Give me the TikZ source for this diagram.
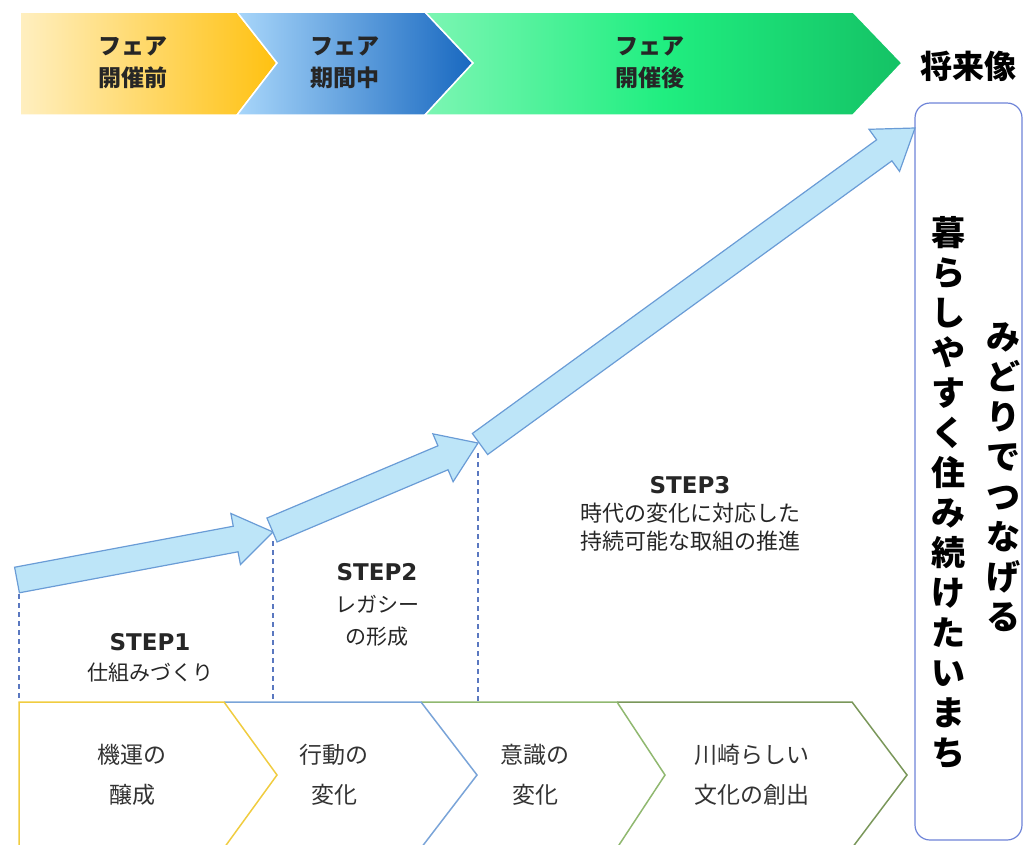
\documentclass[tikz,border=0pt]{standalone}
\usepackage{fontspec}
\setmainfont{Noto Sans CJK JP}
\newfontfamily\stepfont{DejaVu Sans}
\usepackage{tikz}
\usetikzlibrary{calc}

\definecolor{arrowfill}{HTML}{BDE5F8}
\definecolor{arrowline}{HTML}{6A9CD6}
\definecolor{guideline}{HTML}{5A78C0}
\definecolor{visionline}{HTML}{6E84D8}
\definecolor{chevyellow}{HTML}{F0CC40}
\definecolor{chevblue}{HTML}{7AA4D8}
\definecolor{chevgreen}{HTML}{90B870}
\definecolor{chevolive}{HTML}{7A975A}
\definecolor{yellowA}{HTML}{FFEFC0}
\definecolor{yellowB}{HTML}{FFC110}
\definecolor{blueA}{HTML}{A8D6FA}
\definecolor{blueB}{HTML}{1868C0}
\definecolor{greenA}{HTML}{D8FDE6}
\definecolor{greenB}{HTML}{20EE80}
\definecolor{greenC}{HTML}{08964A}

\pgfdeclarehorizontalshading{fairafter}{100bp}{color(0bp)=(greenA); color(50bp)=(greenB); color(100bp)=(greenC)}

% step title in bold latin
\newcommand{\stepName}[1]{{\stepfont\fontsize{23}{28}\selectfont\bfseries #1}}

% block arrow from tail (#1) to tip (#2)
\newcommand{\stepArrow}[2]{%
	\coordinate (#2-neck) at ($(#2)!38pt!(#1)$);
	\draw[bluearrow] ($(#1)!13pt!90:(#2)$) -- ($(#2-neck)!13pt!90:(#2)$)
		-- ($(#2-neck)!26pt!90:(#2)$) -- (#2)
		-- ($(#2-neck)!26pt!-90:(#2)$) -- ($(#2-neck)!13pt!-90:(#2)$)
		-- ($(#1)!13pt!-90:(#2)$) -- cycle;
}

\begin{document}
\begin{tikzpicture}[x=1pt,y=-1pt, % one unit = one pixel, y downwards
	bluearrow/.style={fill=arrowfill,draw=arrowline,line width=1.2pt,line join=miter},
	guide/.style={draw=guideline,dash pattern=on 5pt off 4pt,line width=1.1pt},
	phase/.style={draw=white,line width=1.5pt},
	phasetext/.style={align=center,font=\fontsize{23}{32}\selectfont\bfseries,text=black!85},
	stage/.style={line width=1.5pt},
	stagetext/.style={align=center,font=\fontsize{23}{40}\selectfont,text=black!80},
	steptext/.style={align=center,text=black!85},
	vertical/.style={align=center,font=\fontsize{34}{40}\selectfont\bfseries,text=black}]
	\useasboundingbox (0,0) rectangle (1027,844);

	% top banner
	\shade[phase,left color=yellowA,right color=yellowB]
		(20,12) -- (237,12) -- (277,63) -- (237,115) -- (20,115) -- cycle;
	\shade[phase,left color=blueA,right color=blueB]
		(237,12) -- (425,12) -- (473,63) -- (425,115) -- (237,115) -- (277,63) -- cycle;
	\shade[phase,shading=fairafter]
		(425,12) -- (853,12) -- (902,63) -- (853,115) -- (425,115) -- (473,63) -- cycle;
	\node[phasetext] (before) at (133,63) {フェア\\開催前};
	\node[phasetext] (during) at (345,63) {フェア\\期間中};
	\node[phasetext] (after) at (650,63) {フェア\\開催後};
	\node[font=\fontsize{32}{36}\selectfont\bfseries] (future) at (968,66) {将来像};

	% vision box
	\node[draw=visionline,line width=1.2pt,rounded corners=15pt,fill=white,
		minimum width=107pt,minimum height=737pt] (vision) at (968.5,471.5) {};
	\node[vertical] (live) at (948,493)
		{暮\\ら\\し\\や\\す\\く\\住\\み\\続\\け\\た\\い\\ま\\ち};
	\node[vertical] (green) at (1003,477) {み\\ど\\り\\で\\つ\\な\\げ\\る};

	% rising arrows
	\coordinate (t1) at (17,580);  \coordinate (h1) at (273,532);
	\coordinate (t2) at (272,530); \coordinate (h2) at (478,443);
	\coordinate (t3) at (480,444); \coordinate (h3) at (915,128);
	\stepArrow{t1}{h1}
	\stepArrow{t2}{h2}
	\stepArrow{t3}{h3}

	% dashed step borders
	\coordinate (base) at (0,702);
	\coordinate (d1) at (19,594);
	\coordinate (d2) at (273,541);
	\coordinate (d3) at (478,453);
	\foreach \d in {d1,d2,d3}
		\draw[guide] (\d) -- (\d |- base);

	% step labels
	\node[steptext,font=\fontsize{21}{30}\selectfont] (step1) at (150,658)
		{\stepName{STEP1}\\仕組みづくり};
	\node[steptext,font=\fontsize{21}{32}\selectfont] (step2) at (377,605)
		{\stepName{STEP2}\\レガシー\\の形成};
	\node[steptext,font=\fontsize{22}{28}\selectfont] (step3) at (690,514)
		{\stepName{STEP3}\\時代の変化に対応した\\持続可能な取組の推進};

	% bottom stages
	\draw[stage,draw=chevolive] (617,702) -- (852,702) -- (907,775) -- (852,848);
	\draw[stage,draw=chevgreen] (421,702) -- (617,702) -- (665,775) -- (617,848);
	\draw[stage,draw=chevblue] (224,702) -- (421,702) -- (477,775) -- (421,848);
	\draw[stage,draw=chevyellow] (19,848) -- (19,702) -- (224,702) -- (277,775) -- (224,848);
	\node[stagetext] (chance) at (132,775) {機運の\\醸成};
	\node[stagetext] (action) at (334,775) {行動の\\変化};
	\node[stagetext] (mind) at (535,775) {意識の\\変化};
	\node[stagetext] (culture) at (752,775) {川崎らしい\\文化の創出};
\end{tikzpicture}
\end{document}
